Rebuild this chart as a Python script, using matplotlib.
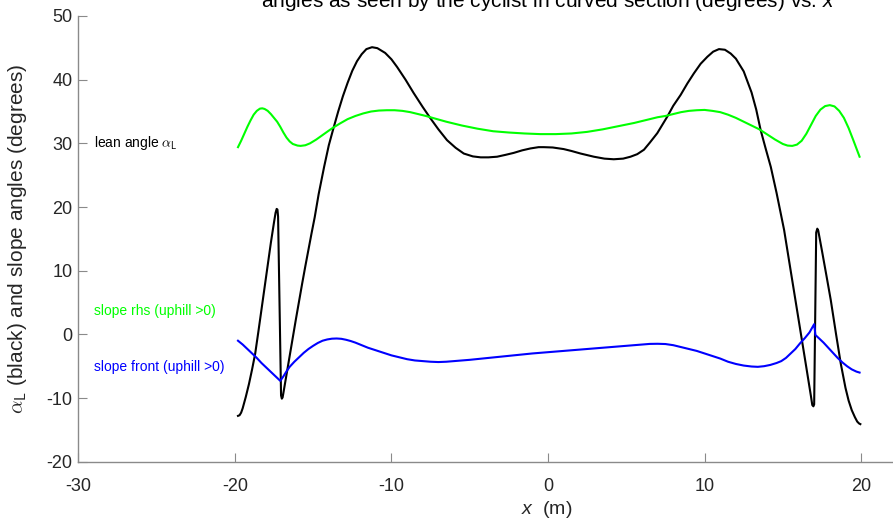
import numpy as np
import matplotlib
matplotlib.use('Agg')
import matplotlib.pyplot as plt

plt.rcParams['font.family'] = ['Liberation Sans', 'DejaVu Sans']
plt.rcParams['mathtext.fontset'] = 'custom'
plt.rcParams['mathtext.rm'] = 'Liberation Sans'
plt.rcParams['mathtext.it'] = 'Liberation Sans:italic'
plt.rcParams['mathtext.sf'] = 'Liberation Sans'
plt.rcParams['axes.unicode_minus'] = False

# lean angle alpha_L (black)
x_lean = [-19.8, -19.7, -19.6, -19.5, -19.3, -19.1, -18.9, -18.7, -18.5, -18.3,
          -18.1, -17.9, -17.7, -17.5, -17.4, -17.33, -17.28, -17.24, -17.05, -17.0,
          -16.95, -16.9, -16.7, -16.5, -16.3, -16.1, -15.9, -15.7, -15.5, -15.3,
          -15.1, -14.9, -14.65, -14.3, -14.0, -13.7, -13.4, -13.1, -12.8, -12.5,
          -12.2, -11.9, -11.6, -11.24, -10.9, -10.4, -10.0, -9.64, -9.1, -8.58,
          -8.0, -7.5, -7.0, -6.45, -5.9, -5.38, -4.8, -4.3, -3.8, -3.25,
          -2.7, -2.19, -1.65, -1.12, -0.6, -0.27, 0.3, 1.0, 1.5, 2.08,
          2.93, 3.6, 4.2, 4.8, 5.27, 5.7, 6.13, 6.5, 6.98, 7.3,
          7.62, 8.0, 8.47, 8.9, 9.32, 9.75, 10.18, 10.55, 10.92, 11.3,
          11.67, 12.0, 12.5, 13.0, 13.3, 13.58, 13.9, 14.23, 14.6, 15.08,
          15.5, 16.0, 16.5, 16.8, 16.88, 16.95, 17.0, 17.13, 17.2, 17.26,
          17.5, 17.8, 18.06, 18.4, 18.7, 19.0, 19.2, 19.4, 19.6, 19.75,
          19.87, 19.95]
y_lean = [-12.8, -12.7, -12.3, -11.6, -9.8, -7.8, -5.5, -3.0, 0.4, 3.9,
          7.4, 10.9, 14.4, 17.6, 19.1, 19.7, 19.6, 18.5, -9.6, -10.1,
          -9.9, -9.2, -6.3, -3.4, -0.5, 2.4, 5.2, 8.0, 10.7, 13.3,
          15.9, 18.4, 22.0, 26.3, 29.7, 32.4, 35.0, 37.4, 39.5, 41.4,
          42.9, 44.0, 44.8, 45.1, 44.95, 44.2, 43.2, 42.0, 40.0, 37.9,
          35.7, 33.9, 32.2, 30.5, 29.3, 28.4, 27.95, 27.8, 27.8, 27.9,
          28.2, 28.5, 28.9, 29.2, 29.4, 29.4, 29.35, 29.1, 28.8, 28.4,
          27.9, 27.6, 27.5, 27.6, 27.9, 28.3, 29.0, 30.1, 31.6, 32.9,
          34.2, 35.9, 37.6, 39.4, 41.0, 42.5, 43.6, 44.4, 44.8, 44.7,
          44.1, 43.3, 41.3, 38.0, 35.3, 32.1, 29.2, 26.3, 22.2, 16.4,
          10.0, 2.4, -5.2, -9.8, -11.1, -11.3, -11.0, 16.0, 16.6, 16.3,
          13.1, 9.0, 5.4, 0.0, -4.6, -8.4, -10.4, -11.9, -13.0, -13.7,
          -14.0, -14.1]

# slope rhs (green)
x_rhs = [-19.8, -19.6, -19.4, -19.2, -19.0, -18.8, -18.6, -18.4, -18.25, -18.1,
         -17.9, -17.7, -17.5, -17.3, -17.1, -16.9, -16.7, -16.5, -16.3, -16.0,
         -15.8, -15.5, -15.2, -14.8, -14.4, -14.0, -13.7, -13.3, -12.8, -12.3,
         -11.8, -11.3, -10.8, -10.3, -9.8, -9.3, -8.8, -8.3, -7.8, -7.3,
         -6.5, -5.5, -4.5, -3.5, -2.5, -1.5, -0.5, 0.5, 1.5, 2.5,
         3.5, 4.5, 5.5, 6.5, 7.0, 7.5, 8.0, 8.5, 9.0, 9.5,
         10.0, 10.5, 11.0, 11.5, 12.0, 12.5, 13.0, 13.5, 14.0, 14.5,
         15.0, 15.3, 15.6, 15.9, 16.2, 16.5, 16.8, 17.1, 17.4, 17.7,
         18.0, 18.3, 18.6, 18.9, 19.2, 19.5, 19.7, 19.9]
y_rhs = [29.4, 30.4, 31.5, 32.6, 33.6, 34.5, 35.1, 35.45, 35.5, 35.4,
         35.1, 34.6, 34.0, 33.4, 32.6, 31.7, 30.9, 30.3, 29.9, 29.65,
         29.6, 29.7, 30.0, 30.6, 31.3, 32.0, 32.5, 33.1, 33.8, 34.3,
         34.7, 35.0, 35.15, 35.2, 35.2, 35.1, 34.9, 34.6, 34.3, 33.95,
         33.4, 32.8, 32.3, 31.9, 31.7, 31.55, 31.45, 31.45, 31.55, 31.8,
         32.2, 32.7, 33.2, 33.8, 34.1, 34.3, 34.6, 34.9, 35.1, 35.2,
         35.25, 35.1, 34.9, 34.5, 34.0, 33.4, 32.8, 32.2, 31.4, 30.6,
         29.9, 29.65, 29.6, 29.8, 30.4, 31.5, 32.9, 34.3, 35.3, 35.85,
         36.0, 35.8, 35.1, 34.0, 32.4, 30.5, 29.2, 27.9]

# slope front (blue)
x_front = [-19.8, -19.5, -19.2, -18.9, -18.6, -18.3, -18.0, -17.7, -17.4, -17.1,
           -16.9, -16.7, -16.5, -16.2, -15.9, -15.6, -15.3, -15.0, -14.7, -14.4,
           -14.1, -13.8, -13.5, -13.2, -12.9, -12.6, -12.3, -12.0, -11.5, -11.0,
           -10.5, -10.0, -9.5, -9.0, -8.5, -8.0, -7.5, -7.0, -6.5, -6.0,
           -5.0, -4.0, -3.0, -2.0, -1.0, 0.0, 1.0, 2.0, 3.0, 4.0,
           5.0, 6.0, 6.5, 7.0, 7.5, 8.0, 8.5, 9.0, 9.5, 10.0,
           10.5, 11.0, 11.5, 12.0, 12.5, 13.0, 13.4, 13.8, 14.2, 14.6,
           14.9, 15.2, 15.5, 15.8, 16.1, 16.4, 16.7, 17.0, 17.08, 17.3,
           17.6, 17.9, 18.2, 18.5, 18.8, 19.1, 19.4, 19.7, 19.9]
y_front = [-1.0, -1.6, -2.3, -3.0, -3.7, -4.5, -5.2, -5.9, -6.6, -7.3,
           -6.6, -5.8, -5.1, -4.3, -3.6, -2.9, -2.3, -1.8, -1.35, -1.0,
           -0.8, -0.68, -0.65, -0.7, -0.85, -1.05, -1.3, -1.6, -2.1, -2.5,
           -2.9, -3.3, -3.6, -3.9, -4.1, -4.2, -4.3, -4.35, -4.3, -4.2,
           -4.0, -3.75, -3.5, -3.25, -3.0, -2.8, -2.6, -2.4, -2.2, -2.0,
           -1.8, -1.6, -1.5, -1.48, -1.52, -1.7, -2.0, -2.3, -2.6, -3.0,
           -3.4, -3.8, -4.3, -4.65, -4.9, -5.05, -5.1, -5.0, -4.8, -4.5,
           -4.2, -3.7, -3.0, -2.3, -1.4, -0.6, 0.3, 1.6, -0.1, -0.6,
           -1.3, -2.1, -2.9, -3.7, -4.4, -5.0, -5.5, -5.85, -6.0]

xticks = [-30, -20, -10, 0, 10, 20]
yticks = [-20, -10, 0, 10, 20, 30, 40, 50]

W, H = 893, 519
fig = plt.figure(figsize=(W / 100, H / 100), dpi=100)
# axes spans x = -30..30 but the picture is cut at the right edge
left, right, top, bottom = 78.3, 1017.7, 16.0, 461.7
ax = fig.add_axes([left / W, 1 - bottom / H, (right - left) / W, (bottom - top) / H])

ax.plot(x_lean, y_lean, color='black', lw=1.5)
ax.plot(x_rhs, y_rhs, color='#00ff00', lw=1.5)
ax.plot(x_front, y_front, color='#0000ff', lw=1.5)

ax.set_xlim(-30, 30)
ax.set_ylim(-20, 50)
ax.set_xticks(xticks)
ax.set_yticks(yticks)
for s in ['top', 'right']:
    ax.spines[s].set_visible(False)
for s in ['left', 'bottom']:
    ax.spines[s].set_color('#8a8a8a')
    ax.spines[s].set_linewidth(1.0)
ax.tick_params(axis='both', direction='in', length=6.5, width=0.8, color='#8a8a8a',
               labelcolor='#262626', labelsize=13)
ax.tick_params(axis='x', pad=12)
ax.tick_params(axis='y', pad=4)

ax.text(-29, 30, r'lean angle $\alpha_{\mathsf{L}}$', fontsize=10, color='black',
        va='center', ha='left', math_fontfamily='cm')
ax.text(-29, 3.7, 'slope rhs (uphill >0)', fontsize=10, color='#00ff00', va='center', ha='left')
ax.text(-29, -5.2, 'slope front (uphill >0)', fontsize=10, color='#0000ff', va='center', ha='left')

fig.text(18 / W, 1 - 239 / H, r'$\alpha_{\mathsf{L}}$ (black) and slope angles (degrees)',
         rotation=90, fontsize=15, color='#262626', ha='center', va='center',
         math_fontfamily='cm')
fig.text(547 / W, 1 - 509 / H, r'$x$  (m)', fontsize=14, color='#262626',
         ha='center', va='center')
# title is cut by the top edge in the reference as well
fig.text(548 / W, 1 - 7 / H,
         r'angles as seen by the cyclist in curved section (degrees) vs. $x$',
         fontsize=15, color='black', ha='center', va='baseline')

fig.savefig('out.png', dpi=100)
